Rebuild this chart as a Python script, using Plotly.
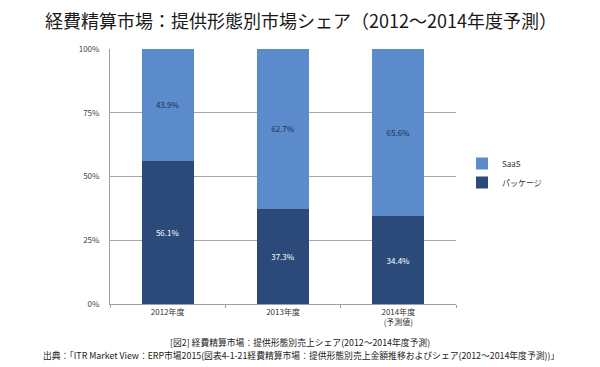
import plotly.graph_objects as go

categories = ["2012年度", "2013年度", "2014年度<br>(予測値)"]
package_share = [56.1, 37.3, 34.4]
saas_share = [43.9, 62.7, 65.6]
y_ticks = [0, 25, 50, 75, 100]
y_tick_labels = ["0%", "25%", "50%", "75%", "100%"]

title_text = "経費精算市場：提供形態別市場シェア（2012～2014年度予測）"
note1 = "[図2] 経費精算市場：提供形態別売上シェア(2012～2014年度予測)"
note2 = "出典：「ITR Market View：ERP市場2015(図表4-1-21経費精算市場：提供形態別売上金額推移およびシェア(2012～2014年度予測))」"

FONT = "Noto Sans CJK JP"
C_PKG = "#2B4A7A"
C_SAAS = "#5B8BCB"

# The page body adds an 8px offset; size the figure so it fits the 600x367 window.
OFF = 8
PL, PR, PT, PB = 110, 456, 49, 304  # plot area in window pixels
W, H = 600 - OFF, 367 - OFF


def px(xw):
    return (xw - PL) / (PR - PL)


def py(yw):
    return (PB - yw) / (PB - PT)


fig = go.Figure()
fig.add_trace(go.Bar(
    x=categories, y=package_share, name="パッケージ",
    marker=dict(color=C_PKG, line=dict(width=0)),
    text=[f"{v:.1f}%" for v in package_share], textposition="inside",
    insidetextanchor="middle",
    textfont=dict(color="white", size=8, family=FONT),
))
fig.add_trace(go.Bar(
    x=categories, y=saas_share, name="SaaS",
    marker=dict(color=C_SAAS, line=dict(width=0)),
    text=[f"{v:.1f}%" for v in saas_share], textposition="inside",
    insidetextanchor="middle",
    textfont=dict(color="#1F3050", size=8, family=FONT),
))

fig.update_layout(
    width=W, height=H,
    margin=dict(l=PL - OFF, r=600 - PR, t=PT - OFF, b=H - (PB - OFF), autoexpand=False),
    barmode="stack", bargap=0.55,
    paper_bgcolor="white", plot_bgcolor="white",
    font=dict(family=FONT, color="#333333", size=8),
    uniformtext=dict(minsize=7, mode="show"),
    showlegend=True,
    legend=dict(
        x=px(462), y=py(149), xanchor="left", yanchor="top",
        traceorder="reversed", font=dict(size=8, color="#333333"),
        itemwidth=30, bgcolor="rgba(0,0,0,0)",
    ),
    xaxis=dict(
        showline=True, linecolor="#A0A0A0", linewidth=1,
        ticks="outside", tickson="boundaries", ticklen=3, tickcolor="#A0A0A0",
        tickfont=dict(size=8, color="#333333"), showgrid=False,
    ),
    yaxis=dict(
        range=[0, 100], tickvals=y_ticks, ticktext=y_tick_labels,
        showline=True, linecolor="#A0A0A0", linewidth=1,
        showgrid=True, gridcolor="#A8A8A8", gridwidth=1,
        ticks="", tickfont=dict(size=8, color="#444444"), ticklabelstandoff=8,
        zeroline=False,
    ),
    annotations=[
        dict(text=title_text, xref="paper", yref="paper", x=px(301), y=py(20),
             xanchor="center", yanchor="middle", showarrow=False,
             font=dict(size=18, color="#1A1A1A", family=FONT)),
        dict(text=note1, xref="paper", yref="paper", x=px(300), y=py(342),
             xanchor="center", yanchor="middle", showarrow=False,
             font=dict(size=8.8, color="#222222", family=FONT)),
        dict(text=note2, xref="paper", yref="paper", x=px(301), y=py(355),
             xanchor="center", yanchor="middle", showarrow=False,
             font=dict(size=8.8, color="#222222", family=FONT)),
    ],
)

fig.write_html("out.html")
